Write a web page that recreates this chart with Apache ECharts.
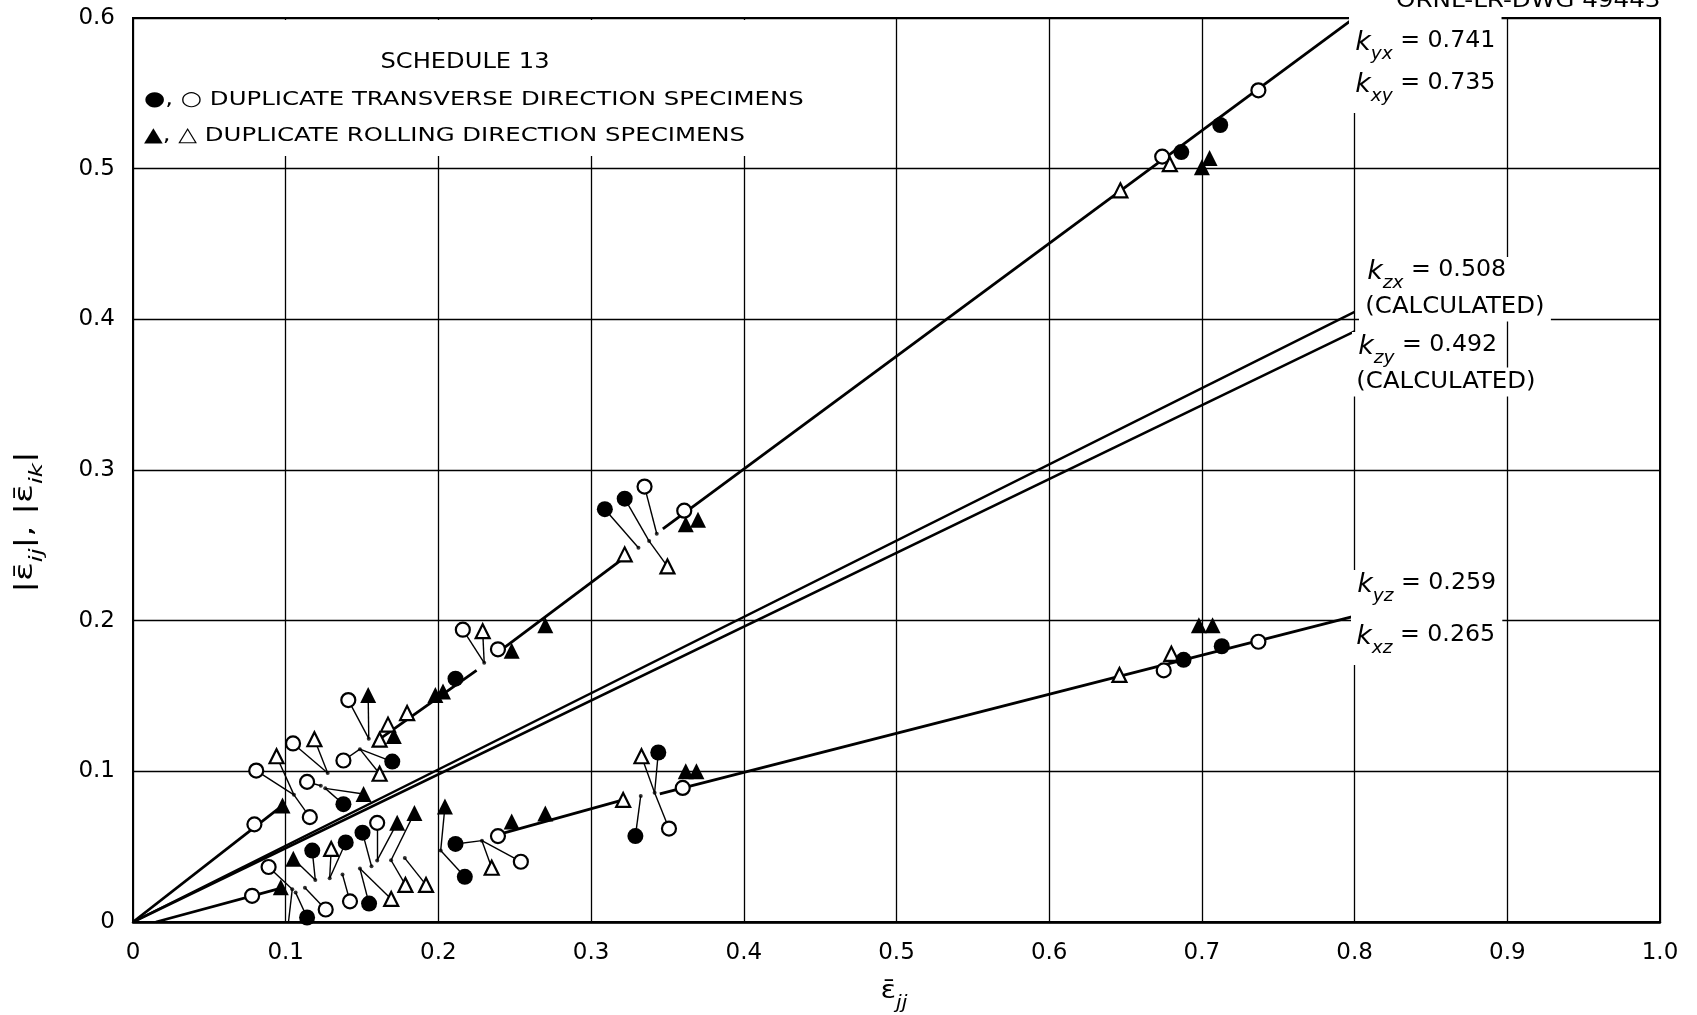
<!DOCTYPE html>
<html>
<head>
<meta charset="utf-8">
<title>Schedule 13</title>
<script src="https://cdn.jsdelivr.net/npm/echarts@6/dist/echarts.min.js"></script>
<style>
  html, body { margin: 0; padding: 0; background: #fff; }
  #main { width: 1697px; height: 1015px; }
</style>
</head>
<body>
<div id="main"></div>
<script>
// tick labels
var xTickLabels = ['0', '0.1', '0.2', '0.3', '0.4', '0.5', '0.6', '0.7', '0.8', '0.9', '1.0'];
var yTickLabels = ['0', '0.1', '0.2', '0.3', '0.4', '0.5', '0.6'];

// fitted lines, drawn in pieces (gaps where the points were moved off the line)
var upperLineSegs = [
  [[0, 0], [0.098, 0.0774]],
  [[0.161, 0.121], [0.225, 0.167]],
  [[0.239, 0.179], [0.322, 0.242]],
  [[0.347, 0.261], [0.797, 0.598]]
];
var kzxLine = [[0, 0], [0.8, 0.405]];
var kzyLine = [[0, 0], [0.8, 0.392]];
var lowerLineSegs = [
  [[0.015, 0], [0.097, 0.0225]],
  [[0.239, 0.058], [0.321, 0.081]],
  [[0.345, 0.085], [0.8, 0.203]]
];

// transverse direction specimens
var filledCircles = [
  [0.1378, 0.0782], [0.1698, 0.1065], [0.2112, 0.1615], [0.309, 0.274], [0.322, 0.281],
  [0.6865, 0.511], [0.712, 0.529],
  [0.114, 0.003], [0.1174, 0.0474], [0.1393, 0.0528], [0.1503, 0.0593], [0.1546, 0.0122],
  [0.2112, 0.0518], [0.2173, 0.030], [0.329, 0.057], [0.344, 0.1125], [0.688, 0.174], [0.713, 0.183]
];
var openCircles = [
  [0.0795, 0.0648], [0.0807, 0.1005], [0.1158, 0.0696], [0.1048, 0.1185], [0.114, 0.093],
  [0.1378, 0.1072], [0.141, 0.1473], [0.216, 0.194], [0.239, 0.181], [0.335, 0.289],
  [0.361, 0.273], [0.674, 0.508], [0.737, 0.552],
  [0.078, 0.0174], [0.0888, 0.0365], [0.1262, 0.0083], [0.1421, 0.0137], [0.1599, 0.0658],
  [0.239, 0.057], [0.254, 0.040], [0.351, 0.062], [0.360, 0.089], [0.675, 0.167], [0.737, 0.186]
];
// rolling direction specimens
var filledTriangles = [
  [0.0979, 0.0774], [0.151, 0.085], [0.154, 0.1506], [0.1708, 0.1235], [0.198, 0.1506],
  [0.203, 0.153], [0.248, 0.180], [0.27, 0.197], [0.362, 0.264], [0.370, 0.267],
  [0.700, 0.501], [0.705, 0.507],
  [0.0968, 0.0231], [0.105, 0.042], [0.173, 0.0658], [0.1843, 0.0724], [0.2043, 0.0767],
  [0.248, 0.0667], [0.270, 0.072], [0.362, 0.100], [0.369, 0.100], [0.698, 0.197], [0.707, 0.197]
];
var openTriangles = [
  [0.094, 0.110], [0.1188, 0.1213], [0.1615, 0.0984], [0.1615, 0.121], [0.167, 0.131],
  [0.1795, 0.1387], [0.229, 0.193], [0.322, 0.244], [0.350, 0.236], [0.6466, 0.4856], [0.679, 0.503],
  [0.1017, -0.001], [0.1298, 0.0485], [0.1691, 0.0153], [0.1784, 0.0246], [0.1919, 0.0246],
  [0.2349, 0.036], [0.321, 0.081], [0.333, 0.110], [0.646, 0.164], [0.680, 0.178]
];

// small dots where a moved point really belongs
var anchorDots = [
  [0.1054, 0.0844], [0.1275, 0.0989], [0.123, 0.0904], [0.1259, 0.0887], [0.1544, 0.1217],
  [0.1486, 0.1147], [0.230, 0.172], [0.331, 0.2484], [0.338, 0.2528], [0.343, 0.2577],
  [0.1043, 0.0218], [0.1065, 0.0195], [0.1126, 0.0228], [0.1194, 0.0278], [0.1288, 0.029],
  [0.1372, 0.0315], [0.1486, 0.0355], [0.1562, 0.037], [0.1599, 0.0409], [0.169, 0.041],
  [0.178, 0.0424], [0.2015, 0.0474], [0.2285, 0.054], [0.3325, 0.0837], [0.3416, 0.0858]
];
// leader lines: point x, point y, dot x, dot y
var leaders = [
  [0.0807, 0.1005, 0.1054, 0.0844], [0.094, 0.110, 0.1054, 0.0844], [0.1158, 0.0696, 0.1054, 0.0844],
  [0.1048, 0.1185, 0.1275, 0.0989], [0.1188, 0.1213, 0.1275, 0.0989], [0.114, 0.093, 0.123, 0.0904],
  [0.151, 0.085, 0.1259, 0.0887], [0.1378, 0.0782, 0.1259, 0.0887], [0.141, 0.1473, 0.1544, 0.1217],
  [0.154, 0.1506, 0.1544, 0.1217], [0.1378, 0.1072, 0.1486, 0.1147], [0.1698, 0.1065, 0.1486, 0.1147],
  [0.1615, 0.0984, 0.1486, 0.1147], [0.216, 0.194, 0.230, 0.172], [0.229, 0.193, 0.230, 0.172],
  [0.309, 0.274, 0.331, 0.2484], [0.322, 0.281, 0.338, 0.2528], [0.335, 0.289, 0.343, 0.2577],
  [0.350, 0.236, 0.338, 0.2528],
  [0.0888, 0.0365, 0.1043, 0.0218], [0.1017, -0.001, 0.1043, 0.0218], [0.114, 0.003, 0.1065, 0.0195],
  [0.1262, 0.0083, 0.1126, 0.0228], [0.105, 0.042, 0.1194, 0.0278], [0.1174, 0.0474, 0.1194, 0.0278],
  [0.1298, 0.0485, 0.1288, 0.029], [0.1393, 0.0528, 0.1288, 0.029], [0.1421, 0.0137, 0.1372, 0.0315],
  [0.1546, 0.0122, 0.1486, 0.0355], [0.1691, 0.0153, 0.1486, 0.0355], [0.1503, 0.0593, 0.1562, 0.037],
  [0.1599, 0.0658, 0.1599, 0.0409], [0.173, 0.0658, 0.1599, 0.0409], [0.1843, 0.0724, 0.169, 0.041],
  [0.1784, 0.0246, 0.169, 0.041], [0.1919, 0.0246, 0.178, 0.0424], [0.2043, 0.0767, 0.2015, 0.0474],
  [0.2173, 0.030, 0.2015, 0.0474], [0.2112, 0.0518, 0.2285, 0.054], [0.2349, 0.036, 0.2285, 0.054],
  [0.254, 0.040, 0.2285, 0.054], [0.333, 0.110, 0.3416, 0.0858], [0.344, 0.1125, 0.3416, 0.0858],
  [0.329, 0.057, 0.3325, 0.0837], [0.351, 0.062, 0.3416, 0.0858]
];

// k labels
var kSubs = ['yx', 'xy', 'zx', 'zy', 'yz', 'xz'];
var kValues = ['0.741', '0.735', '0.508', '0.492', '0.259', '0.265'];

var FONT = 'DejaVu Sans';

var chart = echarts.init(document.getElementById('main'));

function segSeries(segs, width) {
  return {
    type: 'lines',
    coordinateSystem: 'cartesian2d',
    silent: true,
    z: 2,
    lineStyle: { color: '#000', width: width, opacity: 1 },
    data: segs.map(function (s) { return { coords: s }; })
  };
}

function markerSeries(symbol, data, filled) {
  return {
    type: 'scatter',
    symbol: symbol,
    symbolSize: filled ? 16 : 14,
    silent: true,
    z: filled ? 5 : 4,
    itemStyle: {
      color: filled ? '#000' : '#fff',
      borderColor: '#000',
      borderWidth: filled ? 0 : 2.2,
      opacity: 1
    },
    data: data
  };
}

// subscripts: main text sits at the top of the line, the subscript at the bottom
var kRich = {
  k: { fontFamily: FONT, fontSize: 26, fontStyle: 'italic', lineHeight: 28, verticalAlign: 'top', fill: '#000' },
  s: { fontFamily: FONT, fontSize: 18, fontStyle: 'italic', lineHeight: 33, verticalAlign: 'bottom', fill: '#000' },
  n: { fontFamily: FONT, fontSize: 23, lineHeight: 28, verticalAlign: 'top', fill: '#000' }
};
var nameRich = {
  n: { fontFamily: FONT, fontSize: 24, lineHeight: 28, verticalAlign: 'top', fill: '#000' },
  s: { fontFamily: FONT, fontSize: 17, fontStyle: 'italic', lineHeight: 33, verticalAlign: 'bottom', fill: '#000' }
};

function kText(i, x, y, pad) {
  return {
    type: 'text', x: x, y: y, z: 100, scaleX: 1.03,
    style: {
      text: '{k|k}{s|' + kSubs[i] + '}{n| = ' + kValues[i] + '}',
      rich: kRich,
      align: 'left', verticalAlign: 'top',
      backgroundColor: '#fff',
      padding: pad || [2, 6, 8, 6]
    }
  };
}

function plainText(str, x, y, size, sx, align, bg) {
  return {
    type: 'text', x: x, y: y, z: 100, scaleX: sx,
    style: {
      text: str, fontFamily: FONT, fontSize: size, fill: '#000',
      align: align, verticalAlign: 'middle',
      backgroundColor: bg ? '#fff' : null,
      padding: bg ? [3, 6, 3, 6] : 0
    }
  };
}

var option = {
  animation: false,
  backgroundColor: '#fff',
  grid: {
    left: 133, right: 37, top: 18, bottom: 93,
    show: true, borderColor: '#000', borderWidth: 2
  },
  xAxis: {
    type: 'value', min: 0, max: 1, interval: 0.1,
    axisLine: { show: true, lineStyle: { color: '#000', width: 2.5 } },
    axisTick: { show: false },
    splitLine: { show: true, lineStyle: { color: '#000', width: 1.3 } },
    axisLabel: {
      margin: 20, fontFamily: FONT, fontSize: 23, color: '#000',
      showMinLabel: true, showMaxLabel: true,
      formatter: function (v) { return xTickLabels[Math.round(v * 10)]; }
    }
  },
  yAxis: {
    type: 'value', min: 0, max: 0.6, interval: 0.1,
    axisLine: { show: true, lineStyle: { color: '#000', width: 2 } },
    axisTick: { show: false },
    splitLine: { show: true, lineStyle: { color: '#000', width: 1.3 } },
    axisLabel: {
      margin: 18, fontFamily: FONT, fontSize: 23, color: '#000',
      showMinLabel: true, showMaxLabel: true,
      formatter: function (v) { return yTickLabels[Math.round(v * 10)]; }
    }
  },
  graphic: [
    // blank block behind the key, grid is not drawn there
    { type: 'rect', z: 1, shape: { x: 136, y: 20, width: 712, height: 136 }, style: { fill: '#fff' } },
    plainText('SCHEDULE 13', 465, 63, 21, 1.15, 'center'),
    plainText('\u25CF, \u25CB DUPLICATE TRANSVERSE DIRECTION SPECIMENS', 144, 100, 20, 1.22, 'left'),
    plainText('\u25B2, \u25B3 DUPLICATE ROLLING DIRECTION SPECIMENS', 144, 136, 20, 1.22, 'left'),
    {
      type: 'text', x: 1396, y: 12, z: 100, scaleX: 1.12,
      style: { text: 'ORNL-LR-DWG 49443', fontFamily: FONT, fontSize: 22, fill: '#000', align: 'left', verticalAlign: 'bottom' }
    },
    kText(0, 1349, 16, [14, 6, 8, 6]),
    kText(1, 1349, 70),
    kText(2, 1361, 257),
    plainText('(CALCULATED)', 1359, 307, 23, 1.06, 'left', true),
    kText(3, 1352, 332),
    plainText('(CALCULATED)', 1350, 382, 23, 1.06, 'left', true),
    kText(4, 1351, 570, [2, 6, 20, 6]),
    kText(5, 1350, 624, [0, 6, 8, 6]),
    {
      type: 'text', x: 30, y: 522, z: 100, rotation: Math.PI / 2, scaleX: 1.45,
      style: {
        text: '{n||\u03B5\u0304}{s|ij}{n||, |\u03B5\u0304}{s|ik}{n||}',
        rich: nameRich, align: 'center', verticalAlign: 'middle'
      }
    },
    {
      type: 'text', x: 894, y: 996, z: 100, scaleX: 1.2,
      style: {
        text: '{n|\u03B5\u0304}{s|jj}',
        rich: nameRich, align: 'center', verticalAlign: 'middle'
      }
    }
  ],
  series: [
    segSeries(upperLineSegs, 2.8),
    segSeries([kzxLine, kzyLine], 2.5),
    segSeries(lowerLineSegs, 2.8),
    {
      type: 'lines',
      coordinateSystem: 'cartesian2d',
      silent: true,
      z: 2,
      lineStyle: { color: '#000', width: 1.4, opacity: 1 },
      data: leaders.map(function (l) { return { coords: [[l[0], l[1]], [l[2], l[3]]] }; })
    },
    {
      type: 'scatter', symbol: 'circle', symbolSize: 4, silent: true, z: 3,
      itemStyle: { color: '#000' },
      data: anchorDots
    },
    markerSeries('circle', openCircles, false),
    markerSeries('triangle', openTriangles, false),
    markerSeries('circle', filledCircles, true),
    markerSeries('triangle', filledTriangles, true)
  ]
};

chart.setOption(option);
</script>
</body>
</html>
